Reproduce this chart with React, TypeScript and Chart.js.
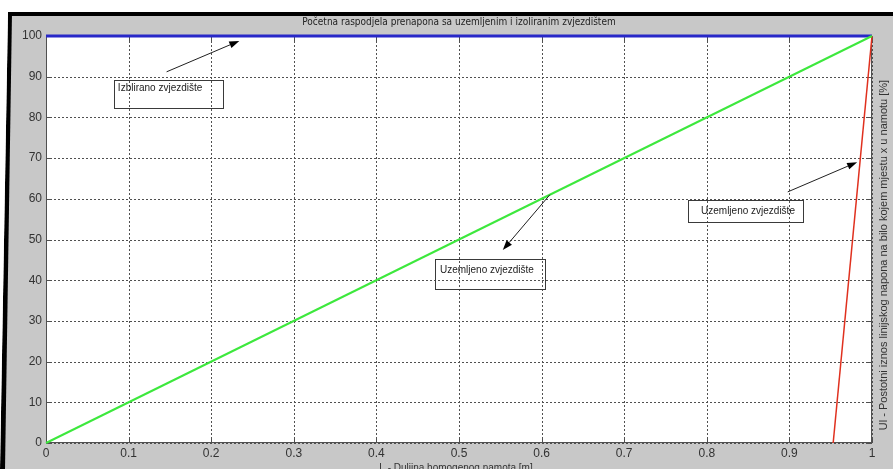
import React, { useEffect, useRef } from "react";
import { Chart, registerables } from "chart.js";

Chart.register(...registerables);

// ---- data ----
const xTickValues = [0, 0.1, 0.2, 0.3, 0.4, 0.5, 0.6, 0.7, 0.8, 0.9, 1];
const xTickLabels = ["0", "0.1", "0.2", "0.3", "0.4", "0.5", "0.6", "0.7", "0.8", "0.9", "1"];
const yTickValues = [0, 10, 20, 30, 40, 50, 60, 70, 80, 90, 100];
const yTickLabels = ["0", "10", "20", "30", "40", "50", "60", "70", "80", "90", "100"];

const isolatedX = [0, 1];
const isolatedY = [100, 100];
const groundedLinearX = [0, 1];
const groundedLinearY = [0, 100];
const groundedSteepX = [0.953, 1];
const groundedSteepY = [0, 100];

const titleText = "Početna raspodjela prenapona sa uzemljenim i izoliranim zvjezdištem";
const xTitleText = "L - Duljina homogenog namota [m]";
const yTitleText = "Ul - Postotni iznos linijskog napona na bilo kojem mjestu x u namotu [%]";

// annotations in data coordinates
const annotationTexts = ["Izblirano zvjezdište", "Uzemljeno zvjezdište", "Uzemljeno zvjezdište"];
const annotationTextX = [0.087, 0.477, 0.793];
const annotationTextY = [87.2, 42.5, 57.0];
const annotationBoxX0 = [0.082, 0.471, 0.777];
const annotationBoxX1 = [0.214, 0.604, 0.916];
const annotationBoxY0 = [89.2, 45.2, 59.7];
const annotationBoxY1 = [82.3, 37.8, 54.3];
const arrowFromX = [0.146, 0.61, 0.898];
const arrowFromY = [91.2, 61.0, 61.7];
const arrowToX = [0.234, 0.553, 0.982];
const arrowToY = [98.8, 47.4, 69.0];

const toPoints = (xs: number[], ys: number[]) => xs.map((x, i) => ({ x, y: ys[i] }));

const drawDottedGrid = (chart: any) => {
  const ctx = chart.ctx;
  const a = chart.chartArea;
  const xs = chart.scales.x;
  const ys = chart.scales.y;
  ctx.save();
  ctx.strokeStyle = "#505050";
  ctx.lineWidth = 1;
  ctx.setLineDash([2, 2]);
  ctx.beginPath();
  xTickValues.forEach((v) => {
    const px = Math.round(xs.getPixelForValue(v)) + 0.5;
    ctx.moveTo(px, a.bottom);
    ctx.lineTo(px, a.top);
  });
  yTickValues.forEach((v) => {
    const py = Math.round(ys.getPixelForValue(v)) + 0.5;
    ctx.moveTo(a.left, py);
    ctx.lineTo(a.right, py);
  });
  ctx.stroke();
  ctx.restore();
};

const decorPlugin = {
  id: "matlabDecor",
  beforeDraw(chart: any) {
    const ctx = chart.ctx;
    const W = chart.width;
    const H = chart.height;
    const a = chart.chartArea;
    ctx.save();
    ctx.fillStyle = "#ffffff";
    ctx.fillRect(0, 0, W, H);
    ctx.fillStyle = "#c8c8c8";
    ctx.fillRect(0, 12, W, H - 12);
    // black window frame
    ctx.fillStyle = "#000000";
    ctx.fillRect(8, 12, W - 8, 4);
    ctx.beginPath();
    ctx.moveTo(8, 12);
    ctx.lineTo(12, 12);
    ctx.lineTo(5, H);
    ctx.lineTo(0, H);
    ctx.closePath();
    ctx.fill();
    ctx.fillStyle = "#ffffff";
    ctx.beginPath();
    ctx.moveTo(0, 12);
    ctx.lineTo(8, 12);
    ctx.lineTo(0, H);
    ctx.closePath();
    ctx.fill();
    // plot area
    ctx.fillStyle = "#ffffff";
    ctx.fillRect(a.left, a.top, a.right - a.left, a.bottom - a.top);
    ctx.restore();
  },
  beforeDatasetsDraw(chart: any) {
    drawDottedGrid(chart);
    const ctx = chart.ctx;
    const a = chart.chartArea;
    const xs = chart.scales.x;
    const ys = chart.scales.y;
    ctx.save();
    ctx.strokeStyle = "#505050";
    ctx.lineWidth = 1;
    ctx.strokeRect(a.left + 0.5, a.top + 0.5, a.right - a.left - 1, a.bottom - a.top - 1);
    ctx.beginPath();
    const tl = 5;
    xTickValues.forEach((v) => {
      const px = Math.round(xs.getPixelForValue(v)) + 0.5;
      ctx.moveTo(px, a.bottom);
      ctx.lineTo(px, a.bottom - tl);
      ctx.moveTo(px, a.top);
      ctx.lineTo(px, a.top + tl);
    });
    yTickValues.forEach((v) => {
      const py = Math.round(ys.getPixelForValue(v)) + 0.5;
      ctx.moveTo(a.left, py);
      ctx.lineTo(a.left + tl, py);
      ctx.moveTo(a.right, py);
      ctx.lineTo(a.right - tl, py);
    });
    ctx.stroke();
    ctx.restore();
  },
  afterDraw(chart: any) {
    const ctx = chart.ctx;
    const a = chart.chartArea;
    const xs = chart.scales.x;
    const ys = chart.scales.y;
    const cx = (a.left + a.right) / 2;
    ctx.save();
    // title
    ctx.fillStyle = "#222222";
    ctx.textAlign = "center";
    ctx.textBaseline = "middle";
    ctx.font = '10px "Liberation Sans Narrow", "DejaVu Sans Condensed", sans-serif';
    ctx.fillText(titleText, cx, 22);
    // x title
    ctx.fillStyle = "#333333";
    ctx.font = '10px "Liberation Sans", Arial, sans-serif';
    ctx.fillText(xTitleText, cx - 3, 468);
    // right y title
    ctx.save();
    ctx.font = '11px "Liberation Sans", Arial, sans-serif';
    ctx.translate(884, 255);
    ctx.rotate(-Math.PI / 2);
    ctx.fillText(yTitleText, 0, 0);
    ctx.restore();
    // annotations
    for (let i = 0; i < annotationTexts.length; i++) {
      const bx0 = Math.round(xs.getPixelForValue(annotationBoxX0[i])) + 0.5;
      const bx1 = Math.round(xs.getPixelForValue(annotationBoxX1[i])) + 0.5;
      const by0 = Math.round(ys.getPixelForValue(annotationBoxY0[i])) + 0.5;
      const by1 = Math.round(ys.getPixelForValue(annotationBoxY1[i])) + 0.5;
      ctx.strokeStyle = "#3a3a3a";
      ctx.lineWidth = 1;
      ctx.strokeRect(bx0, by0, bx1 - bx0, by1 - by0);
      ctx.fillStyle = "#222222";
      ctx.textAlign = "left";
      ctx.textBaseline = "middle";
      ctx.font = '10px "Liberation Sans", Arial, sans-serif';
      ctx.fillText(
        annotationTexts[i],
        xs.getPixelForValue(annotationTextX[i]),
        ys.getPixelForValue(annotationTextY[i])
      );
      // arrow
      const x1 = xs.getPixelForValue(arrowFromX[i]);
      const y1 = ys.getPixelForValue(arrowFromY[i]);
      const x2 = xs.getPixelForValue(arrowToX[i]);
      const y2 = ys.getPixelForValue(arrowToY[i]);
      const ang = Math.atan2(y2 - y1, x2 - x1);
      const hl = 10;
      const hw = 3.5;
      const bxh = x2 - hl * Math.cos(ang);
      const byh = y2 - hl * Math.sin(ang);
      ctx.strokeStyle = "#202020";
      ctx.beginPath();
      ctx.moveTo(x1, y1);
      ctx.lineTo(bxh, byh);
      ctx.stroke();
      ctx.fillStyle = "#000000";
      ctx.beginPath();
      ctx.moveTo(x2, y2);
      ctx.lineTo(bxh + hw * Math.sin(ang), byh - hw * Math.cos(ang));
      ctx.lineTo(bxh - hw * Math.sin(ang), byh + hw * Math.cos(ang));
      ctx.closePath();
      ctx.fill();
    }
    ctx.restore();
  },
};

export default function App() {
  const canvasRef = useRef<HTMLCanvasElement | null>(null);

  useEffect(() => {
    if (!canvasRef.current) return;
    document.body.style.margin = "0";
    const tickFont = { family: '"Liberation Sans", Arial, sans-serif', size: 12 };
    const chart = new Chart(canvasRef.current, {
      type: "line",
      data: {
        datasets: [
          {
            label: "Uzemljeno (linearno)",
            data: toPoints(groundedLinearX, groundedLinearY),
            borderColor: "#3de83d",
            borderWidth: 2,
            pointRadius: 0,
            fill: false,
            clip: 4,
          },
          {
            label: "Uzemljeno",
            data: toPoints(groundedSteepX, groundedSteepY),
            borderColor: "#e0301e",
            borderWidth: 1.5,
            pointRadius: 0,
            fill: false,
            clip: 4,
          },
          {
            label: "Izolirano",
            data: toPoints(isolatedX, isolatedY),
            borderColor: "#2828c8",
            borderWidth: 3,
            pointRadius: 0,
            fill: false,
            clip: 4,
          },
        ],
      },
      options: {
        animation: false,
        responsive: false,
        devicePixelRatio: 1,
        layout: { padding: { left: 0, top: 36, right: 21, bottom: 0 } },
        plugins: {
          legend: { display: false },
          tooltip: { enabled: false },
          title: { display: false },
        },
        scales: {
          x: {
            type: "linear",
            min: 0,
            max: 1,
            afterBuildTicks: (scale: any) => {
              scale.ticks = xTickValues.map((v) => ({ value: v }));
            },
            afterFit: (scale: any) => {
              scale.height = 26;
            },
            ticks: {
              padding: 3,
              color: "#333333",
              font: tickFont,
              maxRotation: 0,
              autoSkip: false,
              callback: (v: any) => {
                const i = xTickValues.findIndex((t) => Math.abs(t - Number(v)) < 1e-9);
                return i >= 0 ? xTickLabels[i] : "";
              },
            },
            grid: { display: false, drawTicks: false },
            border: { display: false },
          },
          y: {
            type: "linear",
            min: 0,
            max: 100,
            afterBuildTicks: (scale: any) => {
              scale.ticks = yTickValues.map((v) => ({ value: v }));
            },
            afterFit: (scale: any) => {
              scale.width = 46;
            },
            ticks: {
              padding: 4,
              color: "#333333",
              font: tickFont,
              autoSkip: false,
              callback: (v: any) => {
                const i = yTickValues.indexOf(Number(v));
                return i >= 0 ? yTickLabels[i] : "";
              },
            },
            grid: { display: false, drawTicks: false },
            border: { display: false },
          },
        },
      },
      plugins: [decorPlugin],
    } as any);
    return () => chart.destroy();
  }, []);

  return (
    <div style={{ position: "fixed", left: 0, top: 0, width: 893, height: 469 }}>
      <canvas ref={canvasRef} width={893} height={469} style={{ display: "block", width: 893, height: 469 }} />
    </div>
  );
}
